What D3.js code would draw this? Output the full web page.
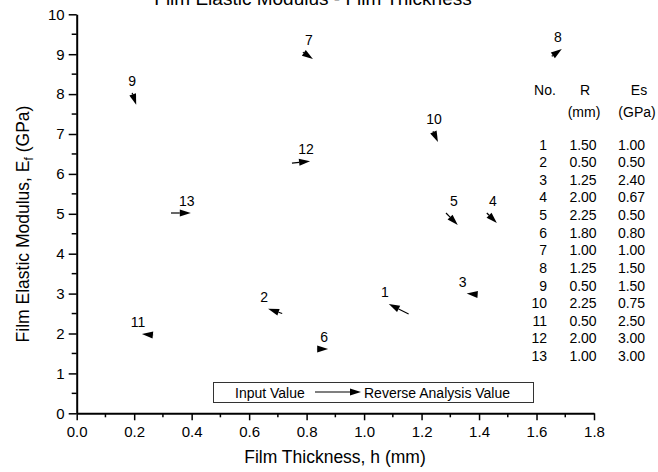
<!DOCTYPE html>
<html>
<head>
<meta charset="utf-8">
<script src="https://cdn.jsdelivr.net/npm/d3@7"></script>
<style>
  body { margin: 0; background: #fff; }
  text { font-family: Arial, "Liberation Sans", sans-serif; fill: #000; }
</style>
</head>
<body>
<svg id="chart"></svg>
<script>
const width = 658;
const height = 472;

// sample numbers and their input parameters (table on the right)
const ids = [1, 2, 3, 4, 5, 6, 7, 8, 9, 10, 11, 12, 13];
const radius = ['1.50', '0.50', '1.25', '2.00', '2.25', '1.80', '1.00', '1.25', '0.50', '2.25', '0.50', '2.00', '1.00'];
const substrate = ['1.00', '0.50', '2.40', '0.67', '0.50', '0.80', '1.00', '1.50', '1.50', '0.75', '2.50', '3.00', '3.00'];

// input value (arrow tail) and reverse analysis value (arrow head)
const inputH = [1.155, 0.715, 1.395, 1.427, 1.285, 0.836, 0.787, 1.653, 0.193, 1.240, 0.266, 0.749, 0.328];
const inputE = [2.49, 2.50, 2.98, 5.02, 5.02, 1.61, 9.05, 8.95, 8.03, 7.07, 1.96, 6.27, 5.02];
const reverseH = [1.086, 0.666, 1.357, 1.462, 1.326, 0.875, 0.822, 1.688, 0.207, 1.257, 0.227, 0.812, 0.397];
const reverseE = [2.74, 2.62, 3.00, 4.77, 4.72, 1.61, 8.88, 9.13, 7.73, 6.80, 1.99, 6.32, 5.02];

const xTicks = [0, 0.2, 0.4, 0.6, 0.8, 1.0, 1.2, 1.4, 1.6, 1.8];
const yTicks = [0, 1, 2, 3, 4, 5, 6, 7, 8, 9, 10];

const svg = d3.select('#chart').attr('width', width).attr('height', height);

const x = d3.scaleLinear().domain([0, 1.8]).range([76.7, 594]);
const y = d3.scaleLinear().domain([0, 10]).range([413.3, 14.3]);

// minor ticks
svg.append('g').selectAll('line')
    .data(d3.range(0.1, 1.8, 0.2))
    .enter().append('line')
    .attr('x1', d => x(d)).attr('x2', d => x(d))
    .attr('y1', y(0)).attr('y2', y(0) + 4)
    .attr('stroke', '#000').attr('stroke-width', 1.5);

svg.append('g').selectAll('line')
    .data(d3.range(0.5, 10, 1))
    .enter().append('line')
    .attr('y1', d => y(d)).attr('y2', d => y(d))
    .attr('x1', x(0)).attr('x2', x(0) - 5)
    .attr('stroke', '#000').attr('stroke-width', 1.5);

const xAxis = svg.append('g')
    .attr('transform', `translate(0, ${y(0)})`)
    .call(d3.axisBottom(x).tickValues(xTicks).tickFormat(d3.format('.1f')).tickSize(7).tickSizeOuter(0).tickPadding(6));

const yAxis = svg.append('g')
    .attr('transform', `translate(${x(0)}, 0)`)
    .call(d3.axisLeft(y).tickValues(yTicks).tickFormat(d3.format('d')).tickSize(8).tickSizeOuter(0).tickPadding(4));

[xAxis, yAxis].forEach(a => {
    a.select('.domain').attr('stroke-width', 2);
    a.selectAll('.tick line').attr('stroke-width', 1.5);
    a.selectAll('.tick text').style('font-size', '15px').attr('fill', '#000')
        .style('font-family', 'Arial, "Liberation Sans", sans-serif');
});

// title (clipped at the top in the original)
svg.append('text')
    .attr('x', 313).attr('y', 5)
    .attr('text-anchor', 'middle')
    .style('font-size', '19px')
    .text('Film Elastic Modulus - Film Thickness');

svg.append('text')
    .attr('x', 335).attr('y', 463)
    .attr('text-anchor', 'middle')
    .style('font-size', '17.5px')
    .text('Film Thickness, h (mm)');

const yLabel = svg.append('text')
    .attr('transform', 'translate(29, 224) rotate(-90)')
    .attr('text-anchor', 'middle')
    .style('font-size', '17.5px');
yLabel.append('tspan').text('Film Elastic Modulus, E');
yLabel.append('tspan').attr('dy', 4).style('font-size', '12px').text('f');
yLabel.append('tspan').attr('dy', -4).text(' (GPa)');

// arrow helper
function arrow(g, x1, y1, x2, y2) {
    const ang = Math.atan2(y2 - y1, x2 - x1);
    const len = 11, half = 3.5;
    const bx = x2 - len * Math.cos(ang), by = y2 - len * Math.sin(ang);
    const dist = Math.hypot(x2 - x1, y2 - y1);
    if (dist > len) {
        g.append('line')
            .attr('x1', x1).attr('y1', y1).attr('x2', bx).attr('y2', by)
            .attr('stroke', '#000').attr('stroke-width', 1.2);
    }
    const pts = [
        [x2, y2],
        [bx + half * Math.sin(ang), by - half * Math.cos(ang)],
        [bx - half * Math.sin(ang), by + half * Math.cos(ang)]
    ];
    g.append('path')
        .attr('d', d3.line()(pts) + 'Z')
        .attr('fill', '#000');
}

const marks = svg.append('g');
ids.forEach((id, i) => {
    const x1 = x(inputH[i]), y1 = y(inputE[i]);
    const x2 = x(reverseH[i]), y2 = y(reverseE[i]);
    arrow(marks, x1, y1, x2, y2);
    marks.append('text')
        .attr('x', x2 - 4)
        .attr('y', Math.min(y1, y2) - 7)
        .attr('text-anchor', 'middle')
        .style('font-size', '14px')
        .text(id);
});

// legend
const legend = svg.append('g');
legend.append('rect')
    .attr('x', 213.5).attr('y', 382.5).attr('width', 320).attr('height', 20)
    .attr('fill', '#fff').attr('stroke', '#333').attr('stroke-width', 1);
legend.append('text').attr('x', 235).attr('y', 398).style('font-size', '14px').text('Input Value');
arrow(legend, 315, 392, 361, 392);
legend.append('text').attr('x', 364).attr('y', 398).style('font-size', '14px').text('Reverse Analysis Value');

// table
const table = svg.append('g').style('font-size', '14px');
table.append('text').attr('x', 545).attr('y', 95).attr('text-anchor', 'middle').text('No.');
table.append('text').attr('x', 585).attr('y', 95).attr('text-anchor', 'middle').text('R');
table.append('text').attr('x', 584).attr('y', 117).attr('text-anchor', 'middle').text('(mm)');
table.append('text').attr('x', 639).attr('y', 95).attr('text-anchor', 'middle').text('Es');
table.append('text').attr('x', 637).attr('y', 117).attr('text-anchor', 'middle').text('(GPa)');

const rowY = d3.scaleLinear().domain([0, 12]).range([149.5, 361]);
ids.forEach((id, i) => {
    table.append('text').attr('x', 547).attr('y', rowY(i)).attr('text-anchor', 'end').text(id);
    table.append('text').attr('x', 583).attr('y', rowY(i)).attr('text-anchor', 'middle').text(radius[i]);
    table.append('text').attr('x', 631.5).attr('y', rowY(i)).attr('text-anchor', 'middle').text(substrate[i]);
});
</script>
</body>
</html>
